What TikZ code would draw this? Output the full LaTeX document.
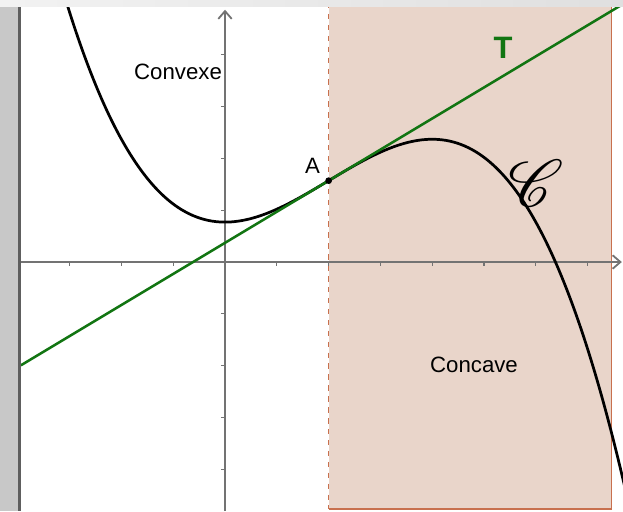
\documentclass[tikz,border=0pt]{standalone}
\usepackage{fontspec}
\setmainfont{Liberation Sans}
\usepackage{amsmath,mathrsfs}
\usetikzlibrary{arrows.meta,positioning}
\definecolor{zonec}{HTML}{E9D5CA}
\definecolor{edgec}{HTML}{C8704E}
\definecolor{tanc}{HTML}{127512}
\definecolor{axisc}{HTML}{737373}
\definecolor{framec}{HTML}{C8C8C8}
\definecolor{framel}{HTML}{5E5E5E}
\tikzset{
  axis/.style={axisc, line width=1pt, -{Straight Barb[length=1.5mm, width=2.6mm]}},
  tick/.style={axisc, line width=0.6pt},
  curv/.style={black, line width=1.5pt},
  tang/.style={tanc, line width=1.4pt},
  lbl/.style={font=\fontsize{12.2}{14}\selectfont, inner sep=0pt},
  dot/.style={circle, fill=black, inner sep=0pt, minimum size=1.3mm},
}

\begin{document}
\begin{tikzpicture}[x=1cm, y=1cm]
  \useasboundingbox (-4.344,-4.807) rectangle (7.683,5.058);
  % concave zone
  \coordinate (zbl) at (2,-4.768);
  \coordinate (zbr) at (7.465,-4.768);
  \coordinate (ztl) at (2,5);
  \coordinate (ztr) at (7.465,5);
  \fill[zonec] (zbl) rectangle (ztr);
  \draw[edgec, line width=0.6pt] (zbl) -- (zbr) -- (ztr);
  \draw[edgec, line width=0.7pt, dashed] (ztl) -- (zbl);
  % axes
  \coordinate (xa) at (-3.94,0);
  \coordinate (xb) at (7.66,0);
  \coordinate (ya) at (0,-4.807);
  \coordinate (yb) at (0,4.87);
  \draw[axis] (xa) -- (xb);
  \draw[axis] (ya) -- (yb);
  \foreach \i in {-3,-2,-1,1,2,...,7}
    \draw[tick] (\i,0) -- (\i,-0.08);
  \foreach \j in {-4,-3,-2,-1,1,2,3,4}
    \draw[tick] (-0.08,\j) -- (0,\j);
  % curve and tangent at A
  \coordinate (tl) at (-3.94,-1.994);
  \coordinate (tr) at (7.7,4.99);
  \begin{scope}
    \clip (-3.94,-4.807) rectangle (7.683,4.923);
    \draw[curv, domain=-3.2:7.8, samples=150, smooth]
      plot (\x, {0.15*(2*\x*\x - \x*\x*\x/3) + 0.77});
    \draw[tang] (tl) -- (tr);
  \end{scope}
  \node[dot] (ptA) at (2,1.57) {};
  \node[lbl, above left=0.8mm and 1.1mm of ptA] (lblA) {A};
  % labels
  \node[lbl] (cvx) at (-0.907,3.668) {Convexe};
  \node[lbl] (ccv) at (4.807,-1.988) {Concave};
  \node[lbl, font=\fontsize{17}{20}\selectfont\bfseries, text=tanc] (lblT) at (5.367,4.125) {T};
  \node[inner sep=0pt, font=\fontsize{22}{24}\selectfont, scale=1.75] (lblC) at (6.0,1.52) {$\mathscr{C}$};
  % window frame
  \fill[framec] (-4.344,-4.807) rectangle (-3.997,4.923);
  \fill[framel] (-3.997,-4.807) rectangle (-3.94,4.923);
  \shade[left color=gray!10, right color=gray!25] (-4.344,4.923) rectangle (7.683,5.058);
\end{tikzpicture}
\end{document}
